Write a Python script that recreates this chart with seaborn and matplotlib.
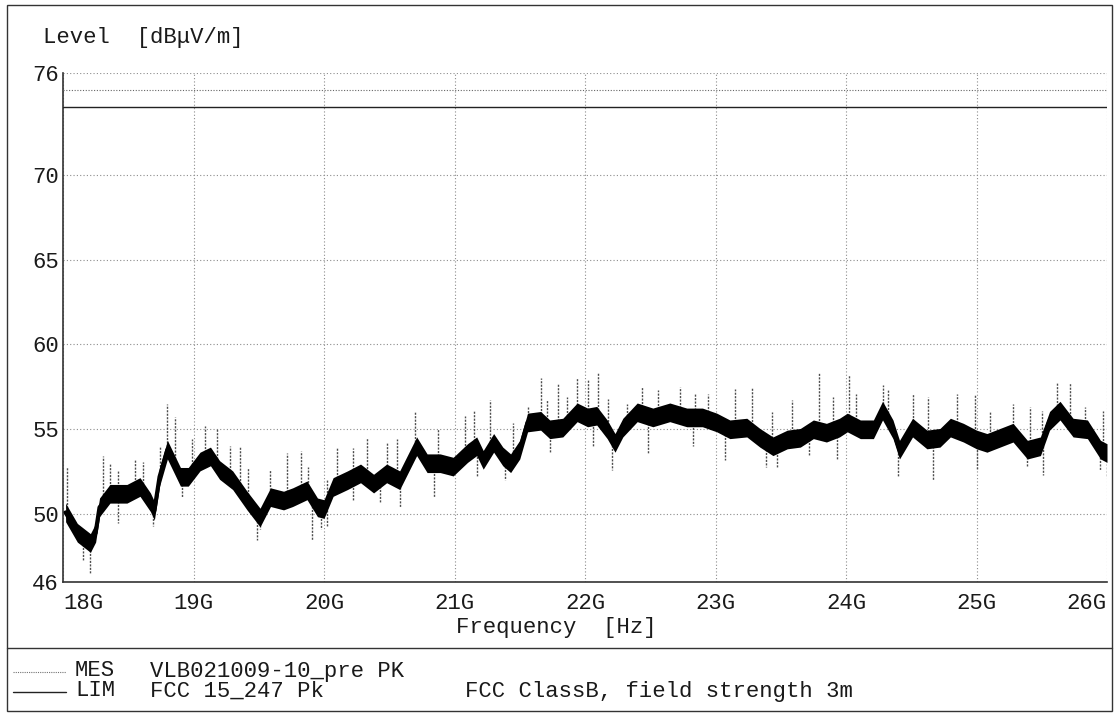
import numpy as np
import matplotlib
matplotlib.use("Agg")
import matplotlib.pyplot as plt
import seaborn as sns
import pandas as pd
from matplotlib.lines import Line2D
from matplotlib.patches import Rectangle

# ---------------- data ----------------
freq_ghz = [18.02, 18.11, 18.21, 18.25, 18.28, 18.36, 18.49, 18.59, 18.67, 18.70,
            18.74, 18.80, 18.90, 18.96, 19.05, 19.13, 19.20, 19.30, 19.41, 19.51,
            19.59, 19.69, 19.76, 19.87, 19.95, 20.00, 20.07, 20.18, 20.28, 20.38,
            20.48, 20.58, 20.71, 20.79, 20.89, 20.99, 21.10, 21.17, 21.22, 21.30,
            21.37, 21.43, 21.50, 21.56, 21.66, 21.73, 21.83, 21.94, 22.02, 22.09,
            22.17, 22.23, 22.29, 22.40, 22.52, 22.65, 22.78, 22.90, 23.01, 23.11,
            23.24, 23.34, 23.44, 23.55, 23.65, 23.75, 23.85, 23.95, 24.01, 24.11,
            24.21, 24.28, 24.36, 24.41, 24.51, 24.62, 24.72, 24.80, 24.90, 25.00,
            25.08, 25.18, 25.28, 25.39, 25.49, 25.56, 25.64, 25.74, 25.85, 25.95,
            26.00]
level_dbuv = [50.1, 48.9, 48.3, 48.9, 50.4, 51.2, 51.2, 51.6, 50.7, 50.2,
              52.2, 53.8, 52.2, 52.2, 53.1, 53.4, 52.6, 52.0, 50.8, 49.8,
              51.0, 50.8, 51.0, 51.4, 50.4, 50.3, 51.6, 52.0, 52.4, 51.8,
              52.4, 52.0, 54.0, 53.0, 53.0, 52.8, 53.6, 54.0, 53.2, 54.2,
              53.4, 53.0, 53.8, 55.4, 55.5, 55.0, 55.1, 56.0, 55.7, 55.8,
              55.0, 54.2, 55.1, 56.0, 55.7, 56.0, 55.7, 55.7, 55.4, 55.0,
              55.1, 54.5, 54.0, 54.4, 54.5, 55.0, 54.8, 55.1, 55.4, 55.0,
              55.0, 56.1, 55.0, 53.8, 55.1, 54.4, 54.5, 55.1, 54.8, 54.4,
              54.2, 54.5, 54.8, 53.8, 54.0, 55.5, 56.1, 55.1, 55.0, 53.8,
              53.6]

spike_freq = [18.03, 18.31, 18.36, 18.42, 18.55, 18.61, 18.74, 18.80, 18.86, 18.99,
              19.09, 19.18, 19.28, 19.36, 19.42, 19.59, 19.72, 19.82, 19.88, 20.02,
              20.10, 20.22, 20.33, 20.48, 20.56, 20.70, 20.87, 21.08, 21.15, 21.27,
              21.45, 21.56, 21.66, 21.71, 21.79, 21.86, 21.94, 22.02, 22.10, 22.18,
              22.32, 22.44, 22.56, 22.73, 22.84, 22.94, 23.15, 23.28, 23.43, 23.59,
              23.79, 23.90, 24.02, 24.08, 24.28, 24.32, 24.51, 24.63, 24.85, 24.99,
              25.10, 25.28, 25.41, 25.50, 25.62, 25.72, 25.83, 25.97,
              18.15, 18.21, 18.42, 18.69, 18.91, 19.49, 19.51, 19.91, 19.98, 20.02,
              20.22, 20.43, 20.58, 20.84, 21.17, 21.39, 21.73, 22.06, 22.21, 22.48,
              22.83, 23.07, 23.39, 23.47, 23.72, 23.93, 24.40, 24.67, 25.00, 25.39,
              25.51, 25.95, 26.00]
spike_level = [52.8, 53.4, 53.0, 52.6, 53.2, 53.1, 54.0, 56.5, 55.7, 54.4,
               55.2, 55.0, 54.0, 54.0, 52.7, 52.6, 53.6, 53.7, 52.8, 52.1,
               53.9, 53.9, 54.5, 54.2, 54.4, 56.0, 55.0, 55.8, 56.1, 56.7,
               55.4, 56.3, 58.0, 56.7, 57.7, 56.9, 58.0, 57.9, 58.3, 56.8,
               56.5, 57.5, 57.3, 57.5, 57.1, 57.1, 57.4, 57.5, 56.0, 56.7,
               58.4, 56.9, 58.2, 57.1, 57.6, 57.3, 57.1, 56.9, 57.1, 57.1,
               56.1, 56.5, 56.3, 56.1, 57.8, 57.7, 56.3, 56.1,
               47.3, 46.5, 49.5, 49.3, 51.0, 48.5, 49.1, 48.5, 49.1, 49.3,
               50.8, 50.7, 50.4, 51.0, 52.2, 52.0, 53.6, 54.0, 52.6, 53.6,
               54.0, 53.2, 52.8, 52.8, 53.4, 53.2, 52.2, 52.0, 52.6, 52.8,
               52.3, 52.6, 52.2]

limit_freq = [18.0, 26.0]
limit_level = [74.0, 74.0]
aux_level = [75.0, 75.0]

x_ticks = [18, 19, 20, 21, 22, 23, 24, 25, 26]
x_tick_labels = ["18G", "19G", "20G", "21G", "22G", "23G", "24G", "25G", "26G"]
y_ticks = [46, 50, 55, 60, 65, 70, 76]
y_tick_labels = ["46", "50", "55", "60", "65", "70", "76"]

# ---------------- style ----------------
sns.set_theme(style="white")
plt.rcParams["font.family"] = ["Liberation Mono", "DejaVu Sans"]
TXT = "#1a1a1a"
FS = 16

W, H = 1117, 714
fig = plt.figure(figsize=(W / 100, H / 100), dpi=100)
fig.patch.set_facecolor("white")

def fx(px):
    return px / W

def fy(py):
    return 1 - py / H

ax = fig.add_axes([fx(63), fy(582), fx(1107) - fx(63), fy(73) - fy(582)])
ax.set_facecolor("white")

df = pd.DataFrame({"f": freq_ghz, "lvl": level_dbuv})

# spikes (grey hairs)
f_arr = np.asarray(freq_ghz)
l_arr = np.asarray(level_dbuv)
base = np.interp(spike_freq, f_arr, l_arr)
ax.vlines(spike_freq, base, spike_level, colors="0.3", linewidth=1.0,
          linestyles=(0, (1.5, 1)), zorder=3)

# dense band of the measurement trace
ax.fill_between(f_arr, l_arr - 0.55, l_arr + 0.55, color="black", linewidth=0, zorder=4)
sns.lineplot(data=df, x="f", y="lvl", color="black", linewidth=3, ax=ax,
             sort=False, zorder=5)

# limit lines
ax.plot(limit_freq, limit_level, color="#222222", linewidth=1.0, zorder=6)
ax.plot(limit_freq, aux_level, color="0.4", linewidth=0.8, linestyle=(0, (1, 1.5)), zorder=6)

ax.set_xlim(18, 26)
ax.set_ylim(46, 76)
ax.set_xticks(x_ticks)
ax.set_xticklabels(x_tick_labels)
ax.set_yticks(y_ticks)
ax.set_yticklabels(y_tick_labels)
ax.set_xlabel("")
ax.set_ylabel("")
ax.tick_params(axis="both", length=0, labelsize=FS, colors=TXT)
ax.tick_params(axis="x", pad=8)
ax.tick_params(axis="y", pad=3)
labs = ax.get_xticklabels()
labs[0].set_horizontalalignment("left")
labs[-1].set_horizontalalignment("right")

ax.grid(True, color="0.55", linewidth=0.8, linestyle=(0, (1, 2)))
for s in ["top", "right"]:
    ax.spines[s].set_visible(False)
for s in ["left", "bottom"]:
    ax.spines[s].set_color("#333333")
    ax.spines[s].set_linewidth(1.2)

# texts
fig.text(fx(43), fy(38), "Level  [dB\u03bcV/m]", fontsize=FS, color=TXT, ha="left", va="center")
fig.text(fx(556), fy(627), "Frequency  [Hz]", fontsize=FS, color=TXT, ha="center", va="center")

# frame and separator
fig.add_artist(Rectangle((fx(7), fy(711)), fx(1112) - fx(7), fy(5) - fy(711),
                         transform=fig.transFigure, fill=False, edgecolor="#333333", linewidth=1.0))
fig.add_artist(Line2D([fx(7), fx(1112)], [fy(648), fy(648)], transform=fig.transFigure,
                      color="#333333", linewidth=1.0))

# legend block
fig.add_artist(Line2D([fx(13), fx(66)], [fy(672), fy(672)], transform=fig.transFigure,
                      color="0.45", linewidth=0.8, linestyle=(0, (1, 1))))
fig.add_artist(Line2D([fx(13), fx(66)], [fy(692), fy(692)], transform=fig.transFigure,
                      color="#222222", linewidth=1.0))
fig.text(fx(75), fy(671), "MES", fontsize=FS, color=TXT, ha="left", va="center")
fig.text(fx(150), fy(671), "VLB021009-10_pre PK", fontsize=FS, color=TXT, ha="left", va="center")
fig.text(fx(75), fy(691), "LIM", fontsize=FS, color=TXT, ha="left", va="center")
fig.text(fx(150), fy(691), "FCC 15_247 Pk", fontsize=FS, color=TXT, ha="left", va="center")
fig.text(fx(465), fy(691), "FCC ClassB, field strength 3m", fontsize=FS, color=TXT, ha="left", va="center")

fig.savefig("out.png", dpi=100, facecolor="white")
